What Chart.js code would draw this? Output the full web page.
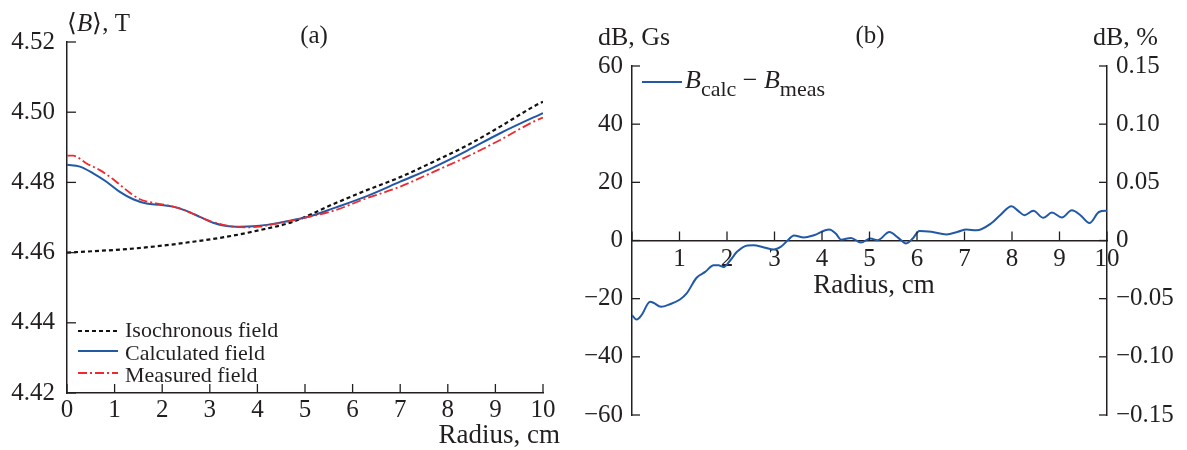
<!DOCTYPE html>
<html lang="en">
<head>
  <meta charset="UTF-8">
  <title>Average magnetic field and field difference vs radius</title>
  <script src="https://cdn.jsdelivr.net/npm/chart.js"></script>
  <style>
    body { margin: 0; background: #fff; }
    #wrap { position: relative; width: 1187px; height: 450px; }
    canvas { position: absolute; top: 0; }
  </style>
</head>
<body>
<div id="wrap">
  <canvas id="chartA" width="580" height="450" style="left:0"></canvas>
  <canvas id="chartB" width="632" height="450" style="left:555px"></canvas>
</div>

<script>
  // (a) average field <B>, T, vs radius, cm
  const isoR  = [0, 0.55, 1.25, 1.95, 2.65, 3.35, 4.05, 4.75, 5.59, 6.30, 7.0, 7.70, 8.40, 9.10, 9.80, 10];
  const isoB  = [4.4600, 4.4604, 4.4610, 4.4619, 4.4631, 4.4645, 4.4664, 4.4688, 4.4738, 4.4778, 4.4815, 4.4859, 4.4905, 4.4959, 4.5016, 4.5030];

  const calcR = [0, 0.27, 0.55, 0.83, 1.11, 1.39, 1.67, 1.95, 2.23, 2.51, 2.79, 3.07, 3.35, 3.63, 3.91, 4.20, 4.47, 4.75, 5.07, 5.59, 6.30, 7.0, 7.70, 8.40, 9.10, 9.80, 10];
  const calcB = [4.4850, 4.4845, 4.4826, 4.4802, 4.4773, 4.4752, 4.4740, 4.4736, 4.4731, 4.4719, 4.4702, 4.4685, 4.4676, 4.4674, 4.4675, 4.4679, 4.4685, 4.4693, 4.4702, 4.4726, 4.4761, 4.4802, 4.4843, 4.4890, 4.4940, 4.4985, 4.4997];

  const measR = [0, 0.13, 0.41, 0.69, 0.97, 1.25, 1.53, 1.81, 2.09, 2.37, 2.65, 2.94, 3.22, 3.50, 3.78, 4.05, 4.33, 4.61, 4.89, 5.59, 6.30, 7.0, 7.70, 8.40, 9.10, 9.80, 10];
  const measB = [4.4876, 4.4876, 4.4854, 4.4835, 4.4809, 4.4778, 4.4752, 4.4742, 4.4735, 4.4726, 4.4710, 4.4693, 4.4681, 4.4674, 4.4672, 4.4674, 4.4681, 4.4688, 4.4696, 4.4719, 4.4755, 4.4788, 4.4830, 4.4873, 4.4921, 4.4973, 4.4985];

  // (b) B_calc - B_meas, Gs
  const diffR = [0, 0.1, 0.2, 0.38, 0.45, 0.61, 0.80, 1.01, 1.15, 1.36, 1.54, 1.72, 1.82, 1.93, 2.07, 2.21, 2.43, 2.56, 2.78, 2.99,
                 3.13, 3.27, 3.41, 3.62, 3.83, 4.15, 4.29, 4.40, 4.61, 4.82, 5.02, 5.17, 5.42, 5.60, 5.77, 5.91, 6.05, 6.30, 6.62, 6.86,
                 7.04, 7.25, 7.57, 7.75, 7.99, 8.13, 8.26, 8.45, 8.66, 8.84, 9.05, 9.26, 9.44, 9.63, 9.83, 9.97, 10];
  const diffG = [-25.7, -27.2, -25.7, -21.1, -21.4, -22.8, -21.9, -20.3, -18.2, -12.8, -10.8, -8.5, -8.5, -9.1, -6.8, -3.9, -1.7, -1.6, -2.4, -3.1,
                 -2.2, -0.1, 1.7, 1.0, 1.8, 3.8, 2.4, 0.3, 0.9, -0.7, 0.7, 0.1, 2.9, 1.0, -1.0, 0.7, 3.3, 3.0, 2.1, 3.0,
                 3.8, 3.5, 6.0, 8.7, 11.8, 10.2, 8.7, 10.2, 7.8, 9.6, 7.9, 10.4, 8.7, 6.0, 9.8, 10.2, 10.1];

  const INK = '#231f20';
  const BLUE = '#2159a8';
  const RED = '#ee2a2e';
  const SERIF = "'Liberation Serif', 'Times New Roman', serif";
  const TICK = 25;

  Chart.defaults.font.family = SERIF;
  Chart.defaults.color = INK;

  function pts(xs, ys) {
    return xs.map((x, i) => ({ x: x, y: ys[i] }));
  }

  function minus(v) {
    return v < 0 ? '\u2212' + Math.abs(v) : String(v);
  }

  // short tick marks pointing into the plot
  function tickMarks(ctx, scale, at, dir, len) {
    ctx.save();
    ctx.strokeStyle = INK;
    ctx.lineWidth = 1.3;
    scale.ticks.forEach(t => {
      const p = scale.getPixelForValue(t.value);
      ctx.beginPath();
      if (scale.isHorizontal()) {
        ctx.moveTo(p, at);
        ctx.lineTo(p, at - len);
      } else {
        ctx.moveTo(at, p);
        ctx.lineTo(at + dir * len, p);
      }
      ctx.stroke();
    });
    ctx.restore();
  }

  // text made of pieces (italic letters, subscripts)
  function rich(ctx, x, y, parts, align) {
    ctx.save();
    ctx.fillStyle = INK;
    ctx.textBaseline = 'alphabetic';
    ctx.textAlign = 'left';
    let w = 0;
    parts.forEach(p => { ctx.font = p.font; w += ctx.measureText(p.t).width; });
    let cx = align === 'center' ? x - w / 2 : align === 'right' ? x - w : x;
    parts.forEach(p => {
      ctx.font = p.font;
      ctx.fillText(p.t, cx, y + (p.dy || 0));
      cx += ctx.measureText(p.t).width;
    });
    ctx.restore();
  }

  function sample(ctx, ds, x1, x2, y) {
    ctx.save();
    ctx.strokeStyle = ds.borderColor;
    ctx.lineWidth = ds.borderWidth;
    ctx.setLineDash(ds.borderDash || []);
    ctx.beginPath();
    ctx.moveTo(x1, y);
    ctx.lineTo(x2, y);
    ctx.stroke();
    ctx.restore();
  }

  const f = (size, style) => (style || '') + ' ' + size + 'px ' + SERIF;

  const axisStyle = {
    grid: { display: false, drawTicks: false },
    border: { display: true, color: INK, width: 1.5 }
  };

  const decorA = {
    id: 'decorA',
    afterDraw(chart) {
      const ctx = chart.ctx, a = chart.chartArea;
      tickMarks(ctx, chart.scales.x, a.bottom, 0, 9);
      tickMarks(ctx, chart.scales.y, a.left, 1, 9);

      rich(ctx, 67, 31, [{ t: '\u27E8', font: f(25) }, { t: 'B', font: f(25, 'italic') }, { t: '\u27E9, T', font: f(25) }]);
      rich(ctx, 314, 43, [{ t: '(a)', font: f(25) }], 'center');
      rich(ctx, 560, 443, [{ t: 'Radius, cm', font: f(27) }], 'right');

      const ds = chart.data.datasets;
      const rows = [[2, 331, 337], [1, 351, 360], [0, 373, 382]];
      rows.forEach(([i, ly, ty]) => {
        sample(ctx, ds[i], 78, 118, ly);
        rich(ctx, 125, ty, [{ t: ds[i].label, font: f(22) }]);
      });
    }
  };

  new Chart(document.getElementById('chartA'), {
    type: 'line',
    data: {
      datasets: [
        { label: 'Measured field', data: pts(measR, measB), borderColor: RED, borderWidth: 1.8, borderDash: [9, 3, 2, 3] },
        { label: 'Calculated field', data: pts(calcR, calcB), borderColor: BLUE, borderWidth: 2 },
        { label: 'Isochronous field', data: pts(isoR, isoB), borderColor: '#111', borderWidth: 2.2, borderDash: [4, 3] }
      ]
    },
    options: {
      responsive: false,
      animation: false,
      layout: { padding: { top: 42, right: 37, left: 0, bottom: 0 } },
      elements: {
        point: { radius: 0 },
        line: { cubicInterpolationMode: 'monotone', fill: false }
      },
      scales: {
        x: {
          type: 'linear', min: 0, max: 10, ...axisStyle,
          afterFit: s => { s.height = 57; },
          ticks: { stepSize: 1, padding: 2, font: { size: TICK }, maxRotation: 0, autoSkip: false }
        },
        y: {
          min: 4.42, max: 4.52, ...axisStyle,
          afterFit: s => { s.width = 67; },
          ticks: { stepSize: 0.02, padding: 12, font: { size: TICK }, callback: v => v.toFixed(2) }
        }
      },
      plugins: { legend: { display: false }, tooltip: { enabled: false } }
    },
    plugins: [decorA]
  });

  const decorB = {
    id: 'decorB',
    afterDraw(chart) {
      const ctx = chart.ctx, a = chart.chartArea;
      const y0 = chart.scales.y.getPixelForValue(0);
      tickMarks(ctx, chart.scales.x, y0, 0, 9);
      tickMarks(ctx, chart.scales.y, a.left, 1, 8);
      tickMarks(ctx, chart.scales.y2, a.right, -1, 8);

      rich(ctx, 43, 45, [{ t: 'dB, Gs', font: f(26) }]);
      rich(ctx, 315, 43, [{ t: '(b)', font: f(25) }], 'center');
      rich(ctx, 538, 45, [{ t: 'dB, %', font: f(26) }]);
      rich(ctx, 319, 293, [{ t: 'Radius, cm', font: f(27) }], 'center');

      sample(ctx, chart.data.datasets[0], 87, 127, 82);
      rich(ctx, 130, 88, [
        { t: 'B', font: f(26, 'italic') },
        { t: 'calc', font: f(22), dy: 8 },
        { t: ' \u2212 ', font: f(26) },
        { t: 'B', font: f(26, 'italic') },
        { t: 'meas', font: f(22), dy: 8 }
      ]);
    }
  };

  new Chart(document.getElementById('chartB'), {
    type: 'line',
    data: {
      datasets: [
        { label: 'Bcalc - Bmeas', data: pts(diffR, diffG), borderColor: BLUE, borderWidth: 2, yAxisID: 'y' }
      ]
    },
    options: {
      responsive: false,
      animation: false,
      layout: { padding: { top: 66, right: 0, left: 0, bottom: 35 } },
      elements: {
        point: { radius: 0 },
        line: { cubicInterpolationMode: 'monotone', fill: false }
      },
      scales: {
        x: {
          type: 'linear', min: 0, max: 10, position: { y: 0 }, ...axisStyle,
          ticks: { stepSize: 1, padding: 4, font: { size: TICK }, maxRotation: 0, autoSkip: false,
                   callback: v => v === 0 ? '' : v }
        },
        y: {
          position: 'left', min: -60, max: 60, ...axisStyle,
          afterFit: s => { s.width = 77; },
          ticks: { stepSize: 20, padding: 9, font: { size: TICK }, callback: v => minus(v) }
        },
        y2: {
          position: 'right', min: -0.15, max: 0.15, ...axisStyle,
          afterFit: s => { s.width = 80; },
          ticks: { stepSize: 0.05, padding: 9, font: { size: TICK },
                   callback: v => Math.abs(v) < 1e-9 ? '0' : (v < 0 ? '\u2212' : '') + Math.abs(v).toFixed(2) }
        }
      },
      plugins: { legend: { display: false }, tooltip: { enabled: false } }
    },
    plugins: [decorB]
  });
</script>
</body>
</html>
